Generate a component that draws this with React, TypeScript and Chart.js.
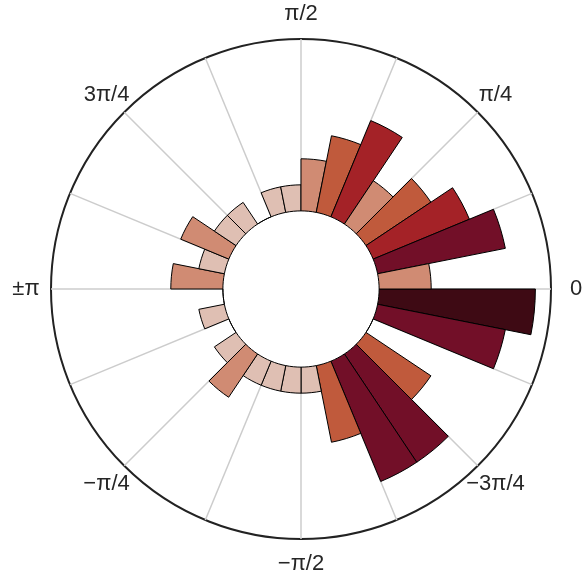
import React, { useEffect, useRef } from "react";
import { Chart, registerables } from "chart.js";

Chart.register(...registerables);

// Histogram counts per 11.25° bin, counter-clockwise starting at angle 0
const COUNTS = [
  2, 5, 4, 3, 2, 4, 3, 2,
  1, 1, 0, 1, 1, 2, 1, 2,
  0, 1, 0, 1, 2, 1, 1, 1,
  1, 3, 5, 5, 3, 0, 5, 6,
];
// Angle tick labels at every 45°, counter-clockwise starting at angle 0
const ANGLE_LABELS = ["0", "π/4", "π/2", "3π/4", "±π", "−π/4", "−π/2", "−3π/4"];
const R_MIN = -3; // radial offset (inner hole)
const R_MAX = 6.6;

const BAR_COLORS = ["#ffffff", "#dfbfb3", "#d08b73", "#c05a3c", "#a42227", "#720f28", "#3e0a14"];

const FONT_SIZE = 22;
const FONT_FAMILY = "Liberation Sans";
const LABEL_GAP = 25; // distance from outer circle to label centre

let measureCtx: CanvasRenderingContext2D | null = null;
function textWidth(s: string): number {
  if (!s) return 0;
  if (!measureCtx) measureCtx = document.createElement("canvas").getContext("2d");
  measureCtx!.font = `${FONT_SIZE}px ${FONT_FAMILY}`;
  return measureCtx!.measureText(s).width;
}

const holePlugin = {
  id: "hole",
  afterDatasetsUpdate(chart: any) {
    const scale = chart.scales.r;
    const inner = scale.getDistanceFromCenterForValue(0);
    chart.getSortedVisibleDatasetMetas().forEach((meta: any) => {
      meta.data.forEach((arc: any) => {
        arc.innerRadius = inner;
      });
    });
  },
  beforeDatasetsDraw(chart: any) {
    const scale = chart.scales.r;
    const ctx = chart.ctx;
    ctx.save();
    ctx.beginPath();
    ctx.arc(scale.xCenter, scale.yCenter, scale.getDistanceFromCenterForValue(0), 0, Math.PI * 2);
    ctx.fillStyle = "#ffffff";
    ctx.fill();
    ctx.restore();
  },
};

export default function App() {
  const ref = useRef<HTMLCanvasElement | null>(null);
  useEffect(() => {
    if (!ref.current) return;
    const n = COUNTS.length;
    // Chart.js polar area goes clockwise, so reverse to keep counter-clockwise bins
    const data = COUNTS.slice().reverse();
    const labels = data.map((_, i) => (i % 4 === 0 ? ANGLE_LABELS[((n - i) % n) / 4] : ""));

    // label kind by index: vertical (top/bottom), horizontal (left/right), diagonal
    const kind = (i: number) => {
      if (i % 4 !== 0) return "none";
      const k = (i / 4) % 2;
      if (k === 1) return "diag";
      return (i / 8) % 2 === 0 ? "horiz" : "vert";
    };
    const V_BOX = 16;

    const chart = new Chart(ref.current, {
      type: "polarArea",
      data: {
        labels,
        datasets: [
          {
            data,
            backgroundColor: (c: any) => BAR_COLORS[Math.min(6, Math.max(0, c.raw ?? 0))],
            borderColor: "#000000",
            borderWidth: 1,
          },
        ],
      },
      plugins: [holePlugin],
      options: {
        responsive: false,
        animation: false,
        layout: { padding: { left: 6.5, right: 0, top: 6, bottom: 0 } },
        plugins: { legend: { display: false }, tooltip: { enabled: false } },
        scales: {
          r: {
            type: "radialLinear",
            min: R_MIN,
            max: R_MAX,
            startAngle: 90,
            ticks: { display: false },
            grid: {
              circular: true,
              color: (c: any) => (c.tick && c.tick.value === R_MAX ? "#222222" : "rgba(0,0,0,0)"),
              lineWidth: (c: any) => (c.tick && c.tick.value === R_MAX ? 2 : 0),
            },
            angleLines: {
              display: true,
              color: (c: any) => (c.index % 2 === 0 ? "#cccccc" : "rgba(0,0,0,0)"),
              lineWidth: (c: any) => (c.index % 2 === 0 ? 1.5 : 0),
            },
            pointLabels: {
              display: true,
              color: "#262626",
              font: (c: any) => {
                const kd = kind(c.index);
                if (kd === "diag") {
                  const w = textWidth(labels[c.index]);
                  return { family: FONT_FAMILY, size: FONT_SIZE, lineHeight: w / FONT_SIZE };
                }
                return { family: FONT_FAMILY, size: FONT_SIZE, lineHeight: V_BOX / FONT_SIZE };
              },
              padding: (c: any) => {
                const kd = kind(c.index);
                const w = textWidth(labels[c.index]);
                if (kd === "vert") return LABEL_GAP - V_BOX / 2;
                if (kd === "horiz") return LABEL_GAP - w / 2;
                if (kd === "diag") return LABEL_GAP - w * Math.SQRT1_2;
                return 0;
              },
            },
          },
        },
      } as any,
    });
    return () => chart.destroy();
  }, []);
  return (
    <canvas
      ref={ref}
      width={588}
      height={573}
      style={{ position: "absolute", left: 0, top: 0, display: "block" }}
    />
  );
}
